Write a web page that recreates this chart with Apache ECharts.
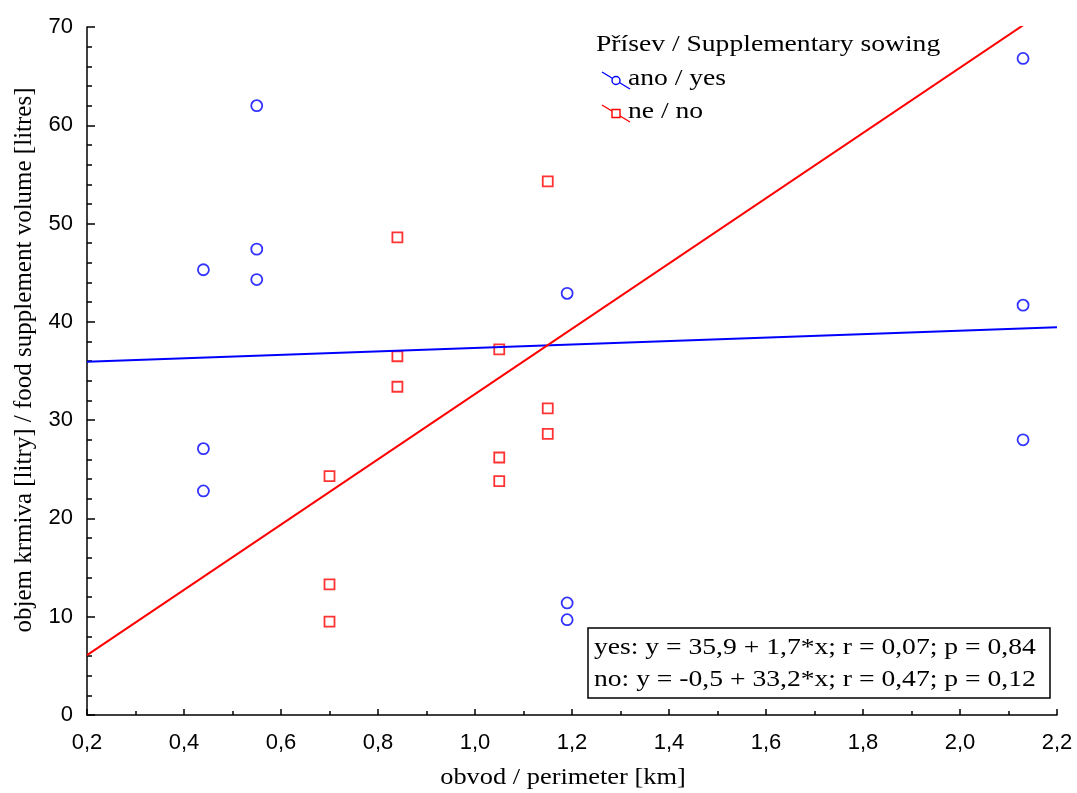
<!DOCTYPE html>
<html><head><meta charset="utf-8">
<script src="https://cdn.jsdelivr.net/npm/echarts@6/dist/echarts.min.js"></script>
<style>html,body{margin:0;padding:0;background:#fff}#c{width:1077px;height:793px}</style>
</head><body><div id="c"></div>
<script>
// Data
const yesX = [0.44, 0.44, 0.44, 0.55, 0.55, 0.55, 1.19, 1.19, 1.19, 2.13, 2.13, 2.13];
const yesY = [45.3, 27.1, 22.8, 62.0, 47.4, 44.3, 42.9, 11.4, 9.7, 66.8, 41.7, 28.0];
const noX = [0.70, 0.70, 0.70, 0.84, 0.84, 0.84, 1.05, 1.05, 1.05, 1.15, 1.15, 1.15];
const noY = [24.3, 13.3, 9.5, 48.6, 36.5, 33.4, 37.2, 26.2, 23.8, 54.3, 31.2, 28.6];
// fitted lines, endpoints
const yesLineX = [0.2, 2.2];
const yesLineY = [35.95, 39.45];
const noLineX = [0.2, 2.2];
const noLineY = [6.1, 72.5];
const legendTitle = 'Přísev / Supplementary sowing';
const legendNames = ['ano / yes', 'ne / no'];
const noteLines = ['yes: y = 35,9 + 1,7*x; r = 0,07; p = 0,84', 'no: y = -0,5 + 33,2*x; r = 0,47; p = 0,12'];
const xTitle = 'obvod / perimeter [km]';
const yTitle = 'objem krmiva [litry] / food supplement volume [litres]';

const BLUE = '#0000ff', RED = '#ff0000';
const pts = (xs, ys) => xs.map((x, i) => [x, ys[i]]);
const serif = '"Liberation Serif", "DejaVu Serif", serif';
const sans = '"Liberation Sans", Arial, sans-serif';

const chart = echarts.init(document.getElementById('c'));
chart.setOption({
  animation: false,
  backgroundColor: '#fff',
  grid: {left: 87, top: 27, width: 970, height: 688, containLabel: false},
  xAxis: {
    type: 'value', min: 0.2, max: 2.2, interval: 0.2,
    axisLine: {show: true, onZero: false, lineStyle: {color: '#000', width: 1.5}},
    axisTick: {show: true, inside: true, length: 6, lineStyle: {color: '#000', width: 1.5}},
    minorTick: {show: true, splitNumber: 2, length: 4, lineStyle: {color: '#000', width: 1.5}},
    splitLine: {show: false},
    axisLabel: {fontFamily: sans, fontSize: 22, color: '#000', margin: 17,
      formatter: v => v.toFixed(1).replace('.', ',')}
  },
  yAxis: {
    type: 'value', min: 0, max: 70, interval: 10,
    axisLine: {show: true, onZero: false, lineStyle: {color: '#000', width: 1.5}},
    axisTick: {show: true, inside: true, length: 8, lineStyle: {color: '#000', width: 1.5}},
    minorTick: {show: true, splitNumber: 5, length: 5, lineStyle: {color: '#000', width: 1.5}},
    splitLine: {show: false},
    axisLabel: {fontFamily: sans, fontSize: 22, color: '#000', margin: 14}
  },
  series: [
    {type: 'line', data: pts(yesLineX, yesLineY), symbol: 'none', lineStyle: {color: BLUE, width: 2}, silent: true},
    {type: 'line', data: pts(noLineX, noLineY), symbol: 'none', lineStyle: {color: RED, width: 2}, silent: true, clip: true},
    {type: 'scatter', name: legendNames[0], data: pts(yesX, yesY), symbol: 'circle', symbolSize: 11,
      itemStyle: {color: 'rgba(0,0,0,0)', borderColor: BLUE, borderWidth: 1.8}},
    {type: 'scatter', name: legendNames[1], data: pts(noX, noY), symbol: 'rect', symbolSize: 10,
      itemStyle: {color: 'rgba(0,0,0,0)', borderColor: RED, borderWidth: 1.8}}
  ],
  graphic: [
    {type: 'text', x: 563, y: 778, scaleX: 1.1, style: {text: xTitle, font: '24px ' + serif, fill: '#000', align: 'center', verticalAlign: 'middle'}},
    {type: 'text', x: 24, y: 360, rotation: Math.PI / 2, style: {text: yTitle, font: '25px ' + serif, fill: '#000', align: 'center', verticalAlign: 'middle'}},
    {type: 'text', x: 596, y: 45, scaleX: 1.15, style: {text: legendTitle, font: '24px ' + serif, fill: '#000', verticalAlign: 'middle'}},
    {type: 'line', shape: {x1: 602, y1: 72, x2: 630, y2: 89}, style: {stroke: BLUE, lineWidth: 1.4}},
    {type: 'circle', shape: {cx: 616, cy: 80.5, r: 4}, style: {stroke: BLUE, fill: '#fff', lineWidth: 1.4}},
    {type: 'text', x: 628, y: 79, scaleX: 1.15, style: {text: legendNames[0], font: '24px ' + serif, fill: '#000', verticalAlign: 'middle'}},
    {type: 'line', shape: {x1: 602, y1: 105, x2: 630, y2: 122}, style: {stroke: RED, lineWidth: 1.4}},
    {type: 'rect', shape: {x: 612, y: 109.5, width: 8, height: 8}, style: {stroke: RED, fill: '#fff', lineWidth: 1.4}},
    {type: 'text', x: 628, y: 112, scaleX: 1.15, style: {text: legendNames[1], font: '24px ' + serif, fill: '#000', verticalAlign: 'middle'}},
    {type: 'rect', shape: {x: 588, y: 628, width: 462, height: 70}, style: {stroke: '#000', fill: '#fff', lineWidth: 1.5}},
    {type: 'text', x: 594, y: 648, scaleX: 1.2, style: {text: noteLines[0], font: '23px ' + serif, fill: '#000', verticalAlign: 'middle'}},
    {type: 'text', x: 594, y: 680, scaleX: 1.2, style: {text: noteLines[1], font: '23px ' + serif, fill: '#000', verticalAlign: 'middle'}}
  ]
});
</script></body></html>
